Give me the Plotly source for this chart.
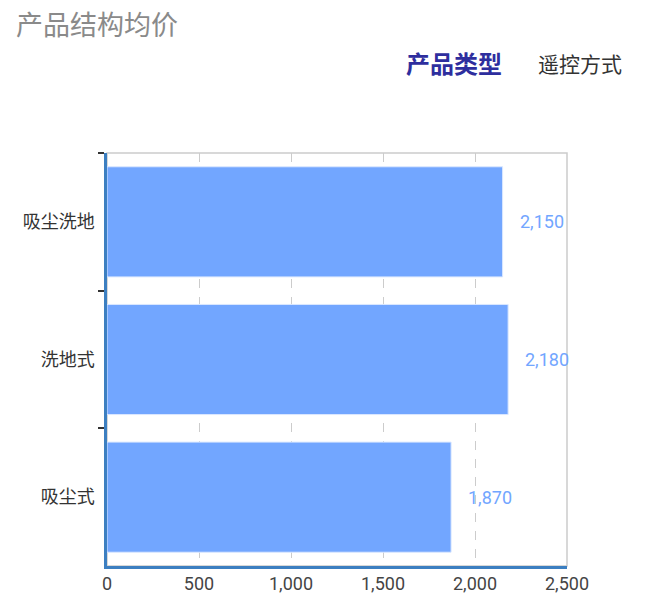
import plotly.graph_objects as go

categories = ["吸尘洗地", "洗地式", "吸尘式"]
values = [2150, 2180, 1870]
x_ticks = [0, 500, 1000, 1500, 2000, 2500]
x_tick_labels = ["0", "500", "1,000", "1,500", "2,000", "2,500"]
title_text = "产品结构均价"
tabs = ["产品类型", "遥控方式"]

FONT = "Roboto, Noto Sans CJK SC, sans-serif"
BAR = "#72a6ff"

W, H = 650, 614
OFF = 8  # page body margin
L, R, T, B = 107 - OFF, W - (567 - OFF), 153 - OFF, H - (566 - OFF)

fig = go.Figure()
fig.add_trace(go.Bar(
    y=categories, x=values, orientation="h",
    marker=dict(color=BAR, line=dict(color="#dbe8ff", width=1)),
    width=0.8, hoverinfo="skip",
))

for c, v in zip(categories, values):
    fig.add_annotation(x=v, y=c, xref="x", yref="y", text=f"{v:,}",
                       showarrow=False, xanchor="left", xshift=15,
                       font=dict(family=FONT, size=18, color=BAR))

fig.add_shape(type="rect", xref="x domain", yref="y domain", x0=0, x1=1, y0=0, y1=1,
              line=dict(color="#cccccc", width=1.5), layer="below")

pw, ph = W - L - R, H - T - B
def px(xp): return (xp - OFF - L) / pw
def py(yp): return (H - B - (yp - OFF)) / ph

fig.add_annotation(x=px(14), y=py(26), xref="paper", yref="paper", text=title_text,
                   showarrow=False, xanchor="left", yanchor="middle",
                   font=dict(family=FONT, size=27, color="#8a8a8a"))
fig.add_annotation(x=px(404), y=py(65), xref="paper", yref="paper", text=tabs[0],
                   showarrow=False, xanchor="left", yanchor="middle",
                   font=dict(family=FONT, size=24, color="#2e2e9e", weight=600))
fig.add_annotation(x=px(536), y=py(65), xref="paper", yref="paper", text=tabs[1],
                   showarrow=False, xanchor="left", yanchor="middle",
                   font=dict(family=FONT, size=21, color="#333333"))

fig.update_layout(
    width=W, height=H,
    margin=dict(l=L, r=R, t=T, b=B),
    paper_bgcolor="white", plot_bgcolor="white",
    showlegend=False,
    font=dict(family=FONT, size=18, color="#444444"),
    xaxis=dict(range=[0, 2500], tickvals=x_ticks, ticktext=x_tick_labels,
               showgrid=True, gridcolor="#cccccc", griddash="dash", gridwidth=1,
               showline=True, linecolor="#3c7fc1", linewidth=2.5,
               ticks="", zeroline=False,
               tickfont=dict(family=FONT, size=18, color="#444444")),
    yaxis=dict(autorange="reversed", showgrid=False, showline=True,
               linecolor="#3c7fc1", linewidth=2.5, ticks="outside",
               tickson="boundaries", ticklen=6, tickcolor="#333333", tickwidth=1.5,
               ticklabelstandoff=6,
               tickfont=dict(family=FONT, size=18, color="#333333")),
    bargap=0.2,
)

fig.write_html("out.html")
